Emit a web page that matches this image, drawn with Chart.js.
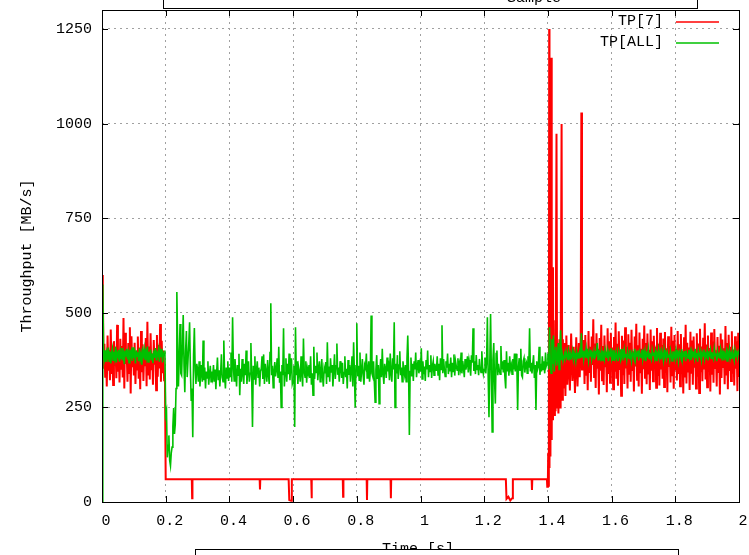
<!DOCTYPE html>
<html>
<head>
<meta charset="utf-8">
<script src="https://cdn.jsdelivr.net/npm/chart.js@4.4.1/dist/chart.umd.min.js"></script>
<style>
  html, body { margin: 0; padding: 0; background: #fff; }
  canvas { display: block; }
</style>
</head>
<body>
<canvas id="chart" width="749" height="555"></canvas>
<script>
const STEP = 0.0025; // seconds between samples in the noisy stretches
const FONT = "15px 'Liberation Mono', monospace";
const RED = '#ff0000';
const GREEN = '#00c000';

const xTicks = [0, 0.2, 0.4, 0.6, 0.8, 1, 1.2, 1.4, 1.6, 1.8, 2];
const yTicks = [0, 250, 500, 750, 1000, 1250];

// TP[7]
const redHead = [ // t = 0 .. 0.1975
  600, 570, 352, 418, 331, 395, 305, 440, 347, 402,
  322, 456, 338, 389, 309, 425, 361, 410, 327, 468,
  344, 397, 316, 431, 352, 412, 329, 486, 300, 447,
  365, 398, 318, 420, 341, 462, 287, 438, 356, 405,
  334, 421, 312, 394, 350, 437, 326, 408, 298, 452,
  343, 417, 320, 399, 359, 433, 306, 476, 337, 411,
  324, 446, 348, 392, 310, 428, 363, 403, 295, 441,
  331, 415, 353, 470, 318, 426, 340, 400, 322, 336
];
const redFlat = [
  [0.2, 60], [0.282, 60], [0.283, 10], [0.284, 60], [0.495, 60], [0.496, 33], [0.497, 60],
  [0.586, 60], [0.588, 5], [0.594, 3], [0.596, 60], [0.657, 60], [0.658, 10], [0.659, 60],
  [0.756, 60], [0.757, 14], [0.758, 60], [0.831, 60], [0.832, 5], [0.833, 60],
  [0.906, 60], [0.907, 10], [0.908, 60], [1.268, 60], [1.27, 8], [1.276, 14], [1.282, 4],
  [1.288, 10], [1.29, 60], [1.349, 60], [1.35, 32], [1.351, 60], [1.397, 60], [1.398, 40], [1.4, 60]
];
const redBurst = [
  [1.401, 130], [1.403, 40], [1.404, 1250], [1.405, 90], [1.407, 860], [1.408, 120],
  [1.411, 1174], [1.412, 164], [1.414, 620], [1.416, 216], [1.418, 480], [1.42, 230],
  [1.422, 430], [1.424, 240], [1.427, 973], [1.429, 250], [1.431, 400], [1.433, 234],
  [1.436, 430], [1.438, 250], [1.44, 380], [1.443, 999], [1.445, 270], [1.447, 430],
  [1.449, 300], [1.452, 420], [1.455, 280], [1.458, 440], [1.461, 310], [1.465, 415],
  [1.469, 295], [1.473, 445], [1.477, 320], [1.481, 410], [1.485, 288], [1.489, 435],
  [1.493, 305], [1.497, 420], [1.5, 330], [1.503, 440], [1.505, 1029], [1.507, 350]
];
const redTail = [ // t = 1.51 .. 2.0
  350, 428, 312, 441, 336, 398, 295, 452, 341, 410, 318, 437, 362, 483, 330, 419, 301, 446, 352, 405,
  284, 433, 347, 468, 322, 412, 309, 440, 356, 397, 290, 459, 338, 425, 315, 447, 360, 408, 298, 436,
  344, 474, 326, 418, 307, 451, 349, 402, 281, 439, 335, 427, 312, 462, 353, 409, 300, 443, 339, 421,
  318, 455, 346, 398, 292, 437, 358, 471, 323, 414, 305, 448, 340, 405, 286, 431, 351, 466, 328, 420,
  311, 445, 337, 402, 296, 456, 347, 425, 319, 439, 355, 410, 302, 460, 333, 418, 308, 447, 350, 415,
  326, 432, 304, 449, 342, 406, 290, 438, 357, 412, 316, 463, 335, 426, 299, 441, 348, 404, 321, 452,
  338, 417, 306, 444, 352, 398, 287, 435, 329, 468, 313, 421, 345, 408, 296, 450, 339, 427, 310, 437,
  355, 403, 300, 446, 331, 419, 288, 458, 343, 411, 319, 434, 350, 472, 324, 416, 303, 440, 347, 407,
  292, 448, 336, 424, 315, 457, 354, 401, 305, 436, 341, 413, 284, 445, 328, 429, 357, 406, 311, 465,
  334, 420, 298, 442, 346, 410, 320, 451, 339, 403, 308, 438, 352, 425, 293, 447, 330
];

// TP[ALL]
const greenHead = [ // t = 0 .. 0.1975
  0, 575, 392, 378, 401, 370, 395, 383, 408, 372,
  398, 366, 390, 404, 375, 397, 381, 410, 369, 393,
  386, 402, 371, 396, 379, 407, 374, 391, 364, 400,
  384, 405, 377, 394, 368, 402, 387, 398, 373, 409,
  380, 392, 366, 401, 385, 396, 372, 406, 378, 390,
  363, 399, 388, 404, 375, 395, 382, 411, 370, 397,
  386, 403, 374, 392, 367, 400, 381, 407, 376, 394,
  389, 402, 371, 398, 383, 405, 369, 393, 387, 400
];
const greenMid = [ // t = 0.2 .. 1.3975
  230, 240, 118, 150, 176, 110, 96, 130, 145, 200, 248, 180, 205, 300, 555, 420, 305, 380, 470, 340,
  335, 410, 494, 360, 290, 400, 452, 330, 330, 420, 475, 350, 269, 300, 171, 390, 460, 350, 312, 365,
  352, 318, 372, 305, 340, 362, 318, 427, 322, 355, 300, 345, 328, 372, 310, 338, 360, 318, 345, 330,
  362, 318, 350, 298, 345, 382, 322, 348, 305, 342, 390, 330, 318, 427, 335, 300, 355, 328, 372, 320,
  355, 332, 395, 318, 488, 360, 320, 378, 342, 305, 362, 335, 392, 282, 352, 318, 378, 340, 312, 365,
  335, 400, 312, 348, 372, 318, 340, 420, 330, 198, 360, 325, 385, 310, 348, 372, 330, 355, 305, 345,
  352, 385, 325, 390, 312, 365, 342, 318, 375, 338, 312, 395, 525, 335, 360, 302, 345, 370, 332, 350,
  380, 328, 410, 315, 345, 250, 362, 335, 459, 305, 342, 380, 318, 365, 338, 392, 322, 358, 380, 312,
  320, 360, 198, 462, 335, 372, 312, 355, 342, 318, 385, 340, 305, 432, 345, 330, 372, 315, 352, 340,
  362, 328, 385, 310, 340, 282, 410, 325, 360, 342, 395, 322, 352, 372, 318, 345, 378, 330, 305, 352,
  340, 370, 312, 422, 332, 358, 318, 380, 342, 362, 305, 348, 390, 325, 360, 419, 336, 355, 318, 372,
  355, 328, 368, 312, 342, 385, 330, 352, 300, 375, 336, 362, 318, 350, 385, 305, 422, 340, 250, 360,
  472, 332, 360, 322, 395, 318, 345, 378, 335, 310, 362, 355, 392, 328, 350, 372, 318, 345, 493, 340,
  332, 372, 318, 264, 350, 388, 325, 362, 260, 345, 378, 330, 405, 340, 312, 365, 352, 328, 382, 345,
  358, 322, 392, 340, 318, 380, 350, 475, 250, 365, 340, 388, 325, 362, 398, 335, 355, 318, 372, 348,
  336, 362, 318, 378, 440, 350, 177, 345, 382, 332, 365, 320, 372, 350, 395, 330, 358, 375, 340, 362,
  345, 406, 325, 372, 338, 358, 320, 375, 350, 400, 330, 362, 345, 388, 328, 360, 372, 335, 365, 348,
  348, 385, 336, 365, 322, 380, 350, 467, 340, 378, 350, 332, 372, 355, 392, 338, 365, 345, 382, 330,
  368, 345, 390, 334, 372, 358, 348, 380, 335, 365, 352, 395, 340, 372, 355, 330, 378, 350, 362, 385,
  342, 375, 360, 334, 388, 368, 459, 346, 372, 338, 388, 350, 362, 335, 378, 355, 342, 398, 358, 338,
  350, 382, 340, 372, 488, 330, 224, 365, 497, 340, 185, 375, 420, 320, 260, 392, 400, 335, 365, 348,
  338, 412, 350, 372, 342, 375, 330, 300, 398, 345, 368, 334, 385, 352, 362, 338, 378, 350, 392, 345,
  392, 362, 243, 358, 380, 348, 405, 335, 330, 372, 380, 342, 362, 368, 340, 385, 355, 459, 345, 368,
  340, 365, 388, 328, 362, 243, 372, 350, 358, 410, 336, 365, 345, 385, 350, 372, 340, 395, 360, 368
];
const greenTail = [ // t = 1.4 .. 2.0
  392, 350, 462, 372, 340, 430, 365, 440, 345, 400, 410, 360, 380, 420, 350, 395, 454, 375, 390, 372,
  372, 392, 380, 398, 386, 375, 398, 382, 392, 376, 388, 400, 378, 394, 385, 372, 396, 383, 390, 379,
  396, 380, 446, 384, 400, 377, 394, 388, 405, 380, 392, 374, 398, 386, 402, 378, 392, 385, 399, 381,
  385, 398, 420, 376, 402, 389, 380, 396, 374, 400, 388, 377, 403, 392, 381, 398, 372, 395, 386, 406,
  380, 393, 375, 401, 388, 379, 397, 384, 372, 399, 390, 378, 404, 386, 395, 374, 400, 383, 391, 376,
  398, 385, 379, 402, 388, 373, 396, 390, 381, 405, 377, 393, 386, 400, 374, 397, 389, 382, 403, 378,
  395, 384, 399, 372, 391, 387, 404, 379, 394, 383, 376, 401, 388, 395, 380, 397, 374, 392, 386, 403,
  381, 394, 377, 399, 389, 375, 402, 385, 393, 380, 396, 383, 390, 376, 400, 387, 373, 398, 384, 392,
  378, 401, 386, 393, 374, 397, 389, 381, 404, 377, 392, 385, 399, 372, 395, 388, 380, 402, 383, 396,
  375, 398, 387, 391, 379, 405, 382, 394, 371, 400, 389, 384, 397, 376, 393, 386, 403, 378, 391, 385,
  399, 374, 392, 388, 401, 380, 396, 383, 377, 404, 387, 393, 372, 398, 385, 390, 379, 402, 384, 395,
  376, 400, 389, 382, 397, 373, 394, 386, 403, 380, 391, 378, 399, 385, 374, 401, 388, 393, 381, 397,
  390
];

function sampled(values, t0) {
  return values.map((v, i) => ({ x: +(t0 + i * STEP).toFixed(4), y: v }));
}
function pairs(list) {
  return list.map(([x, y]) => ({ x, y }));
}

const redData = [...sampled(redHead, 0), ...pairs(redFlat), ...pairs(redBurst), ...sampled(redTail, 1.51)];
const greenData = [...sampled(greenHead, 0), ...sampled(greenMid, 0.2), ...sampled(greenTail, 1.4)];

// gnuplot-ish frame: full border, inward ticks, x labels, key, axis titles, the cut-off boxes
const gnuplotFrame = {
  id: 'gnuplotFrame',
  afterDatasetsDraw(chart) {
    const { ctx, chartArea: a, scales } = chart;
    ctx.save();
    ctx.strokeStyle = '#000';
    ctx.lineWidth = 1;
    ctx.beginPath();
    xTicks.forEach(t => {
      const x = Math.round(scales.x.getPixelForValue(t)) + 0.5;
      ctx.moveTo(x, a.bottom); ctx.lineTo(x, a.bottom - 6);
      ctx.moveTo(x, a.top); ctx.lineTo(x, a.top + 6);
    });
    yTicks.forEach(v => {
      const y = Math.round(scales.y.getPixelForValue(v)) + 0.5;
      ctx.moveTo(a.left, y); ctx.lineTo(a.left + 6, y);
      ctx.moveTo(a.right, y); ctx.lineTo(a.right - 6, y);
    });
    ctx.stroke();
    ctx.strokeRect(Math.round(a.left) + 0.5, Math.round(a.top) + 0.5,
      Math.round(a.right - a.left), Math.round(a.bottom - a.top));

    // x tick labels sit a few px right of their ticks, like the original
    ctx.font = FONT;
    ctx.fillStyle = '#000';
    ctx.textAlign = 'center';
    ctx.textBaseline = 'middle';
    xTicks.forEach(t => {
      ctx.fillText(String(t), scales.x.getPixelForValue(t) + 4, a.bottom + 19);
    });
    ctx.restore();
  },
  afterDraw(chart) {
    const { ctx, chartArea: a } = chart;
    ctx.save();
    ctx.font = FONT;

    // key
    const keys = [['TP[7]', RED], ['TP[ALL]', GREEN]];
    ctx.textAlign = 'right';
    ctx.textBaseline = 'middle';
    keys.forEach(([label, color], i) => {
      const y = 21 + i * 21;
      ctx.fillStyle = '#000';
      ctx.fillText(label, 663, y);
      ctx.strokeStyle = color;
      ctx.lineWidth = 1.5;
      ctx.beginPath();
      ctx.moveTo(676, y + 1); ctx.lineTo(719, y + 1);
      ctx.stroke();
    });

    // y label
    ctx.fillStyle = '#000';
    ctx.save();
    ctx.translate(27, (a.top + a.bottom) / 2);
    ctx.rotate(-Math.PI / 2);
    ctx.textAlign = 'center';
    ctx.fillText('Throughput [MB/s]', 0, 0);
    ctx.restore();

    // x label, then the box that covers its lower half
    ctx.textAlign = 'center';
    ctx.textBaseline = 'alphabetic';
    ctx.fillText('Time [s]', 418, 553);
    ctx.fillStyle = '#fff';
    ctx.fillRect(195.5, 549.5, 483, 20);
    ctx.strokeStyle = '#000';
    ctx.lineWidth = 1;
    ctx.strokeRect(195.5, 549.5, 483, 20);

    // top box, title mostly off-canvas
    ctx.fillStyle = '#fff';
    ctx.fillRect(163.5, -10, 534, 18.5);
    ctx.strokeRect(163.5, -10, 534, 18.5);
    ctx.fillStyle = '#000';
    ctx.textAlign = 'left';
    ctx.fillText('Sample', 507, 2);
    ctx.restore();
  }
};

new Chart(document.getElementById('chart'), {
  type: 'line',
  data: {
    datasets: [
      { label: 'TP[7]', data: redData, borderColor: RED, borderWidth: 2, order: 1 },
      { label: 'TP[ALL]', data: greenData, borderColor: GREEN, borderWidth: 1.6, order: 0 }
    ]
  },
  options: {
    responsive: false,
    animation: false,
    events: [],
    layout: { padding: { left: 0, right: 10, top: 10, bottom: 0 } },
    elements: { point: { radius: 0 }, line: { tension: 0, borderJoinStyle: 'miter' } },
    plugins: { legend: { display: false }, title: { display: false }, tooltip: { enabled: false } },
    scales: {
      x: {
        type: 'linear',
        min: 0,
        max: 2,
        afterBuildTicks: s => { s.ticks = xTicks.map(v => ({ value: v })); },
        afterFit: s => { s.height = 53; s.paddingLeft = 0; s.paddingRight = 0; },
        ticks: { display: false },
        grid: { color: '#a0a0a0', lineWidth: 1, drawTicks: false },
        border: { display: false, dash: [2, 4] }
      },
      y: {
        min: 0,
        max: 1300,
        afterBuildTicks: s => { s.ticks = yTicks.map(v => ({ value: v })); },
        afterFit: s => { s.width = 102; s.paddingTop = 0; s.paddingBottom = 0; },
        ticks: {
          font: { family: "'Liberation Mono', monospace", size: 15 },
          color: '#000',
          padding: 10,
          callback: v => String(v)
        },
        grid: { color: '#a0a0a0', lineWidth: 1, drawTicks: false },
        border: { display: false, dash: [2, 4] }
      }
    }
  },
  plugins: [gnuplotFrame]
});
</script>
</body>
</html>
